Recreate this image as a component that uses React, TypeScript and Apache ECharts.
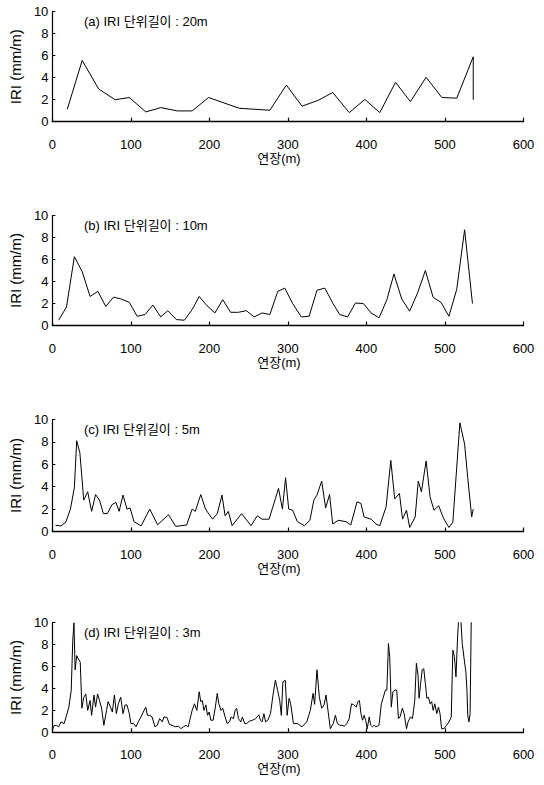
import React, { useEffect, useRef } from "react";
import * as echarts from "echarts";

// Panel titles
const panelTitles = [
  "(a) IRI 단위길이 : 20m",
  "(b) IRI 단위길이 : 10m",
  "(c) IRI 단위길이 : 5m",
  "(d) IRI 단위길이 : 3m",
];
const xName = "연장(m)";
const yName = "IRI (mm/m)";

// (a) 20 m unit length
const aDist = [19, 38, 59, 80, 98, 119, 138, 159, 178, 199, 238, 277, 298, 318, 339, 357, 378, 398, 417, 437, 456, 476, 496, 515, 536, 536];
const aIRI = [1.13, 5.57, 2.97, 2.0, 2.2, 0.89, 1.28, 0.98, 0.98, 2.2, 1.22, 1.04, 3.33, 1.41, 1.96, 2.66, 0.83, 2.02, 0.83, 3.58, 1.83, 4.04, 2.2, 2.14, 5.9, 2.0];

// (b) 10 m unit length
const bDist = [8, 18, 28, 38, 48, 58, 68, 78, 88, 98, 108, 118, 128, 138, 147, 158, 168, 178, 187, 197, 207, 217, 227, 237, 247, 257, 267, 277, 287, 296, 306, 317, 327, 337, 347, 357, 366, 376, 386, 396, 406, 416, 426, 435, 445, 455, 465, 475, 485, 495, 505, 515, 525, 535];
const bIRI = [0.48, 1.68, 6.25, 4.9, 2.64, 3.1, 1.74, 2.58, 2.4, 2.1, 0.84, 1.0, 1.86, 0.78, 1.35, 0.54, 0.48, 1.44, 2.64, 1.8, 1.14, 2.34, 1.2, 1.2, 1.35, 0.78, 1.14, 1.0, 3.1, 3.4, 2.0, 0.78, 0.84, 3.2, 3.4, 2.04, 1.0, 0.78, 2.04, 2.0, 1.14, 0.7, 2.34, 4.68, 2.4, 1.3, 2.94, 5.0, 2.55, 2.1, 0.84, 3.3, 8.7, 2.0];

// (c) 5 m unit length
const cDist = [4, 11, 17, 23, 28, 31, 35, 40, 45, 50, 55, 60, 65, 70, 76, 81, 85, 90, 95, 99, 104, 113, 124, 134, 148, 157, 171, 178, 182, 189, 195, 204, 210, 216, 220, 224, 229, 241, 253, 261, 267, 276, 288, 293, 297, 301, 306, 312, 321, 328, 333, 337, 343, 348, 353, 357, 364, 374, 380, 388, 393, 397, 406, 412, 417, 425, 431, 436, 442, 446, 451, 455, 462, 466, 470, 476, 481, 486, 492, 498, 505, 510, 519, 525, 529, 534, 536];
const cIRI = [0.55, 0.5, 0.82, 2.0, 3.9, 8.1, 7.05, 2.8, 3.55, 1.8, 3.3, 2.8, 1.6, 1.6, 2.4, 2.6, 1.8, 3.25, 2.0, 2.1, 0.88, 0.5, 2.0, 0.6, 1.5, 0.46, 0.58, 2.0, 1.8, 3.3, 2.0, 1.1, 1.6, 3.25, 1.4, 1.8, 0.52, 1.6, 0.52, 1.4, 1.1, 1.1, 3.85, 2.0, 4.8, 2.0, 1.9, 0.88, 0.52, 1.0, 2.8, 3.25, 4.5, 2.1, 3.3, 0.67, 1.0, 0.88, 0.58, 2.65, 2.5, 1.3, 1.1, 0.67, 0.52, 2.2, 6.35, 2.9, 3.4, 1.1, 1.9, 0.36, 1.28, 4.5, 3.55, 6.3, 3.1, 1.9, 2.3, 1.2, 0.36, 0.82, 9.7, 7.8, 4.8, 1.3, 2.0];

// (d) 3 m unit length
const dDist = [0, 2, 5, 8, 11, 15, 17.5, 21, 24, 26, 27.5, 29, 31, 33, 35.5, 37.6, 40, 42.6, 45, 48, 50, 53, 55, 57.6, 60, 62.7, 65.6, 69, 71, 74, 76.4, 79, 81.5, 84, 87, 90, 92.7, 95, 98, 100, 103.6, 106.5, 109.4, 112.8, 115.7, 119, 121, 124, 127, 130.7, 133.7, 136.6, 140, 142, 146, 149, 152.5, 156.6, 160.8, 163.7, 167, 170, 173, 176, 178, 181, 184, 187, 189, 191, 193, 195.5, 197.6, 199.7, 201.8, 204.7, 207.6, 210, 212, 214.7, 217, 220, 222.6, 225.6, 227.6, 230.6, 232.7, 234.7, 237, 240, 242, 245, 247.7, 250.6, 254.8, 259, 263, 265, 267, 269.4, 271.5, 274.4, 277.8, 281, 284, 287, 289.5, 291.6, 293.6, 296.6, 299, 301.5, 303.5, 307, 312, 318, 324, 328.5, 332, 334, 337, 340, 343, 346, 348.5, 351, 354, 357.7, 360.5, 363, 366, 369, 372, 375, 378, 381, 384, 387, 389, 391, 393, 395, 397, 399, 401, 403.5, 405.5, 407.6, 409.7, 411.8, 414, 416, 419, 421.5, 424, 426, 428, 429.6, 431.6, 433.7, 436.6, 438.6, 440.7, 442.8, 445.7, 448, 451, 453, 456, 458.6, 461.5, 463.6, 465.7, 467, 469, 471, 473, 475, 477, 479, 481, 483, 485, 487, 489.6, 491.7, 493.7, 495.7, 498.7, 502, 505, 508, 510, 512, 514, 516, 517.5, 520, 522, 524.6, 526.6, 528, 529, 530.5, 532, 533.5];
const dIRI = [0.2, 0.6, 0.64, 0.5, 0.95, 0.8, 1.4, 2.3, 3.8, 8.4, 10, 5.7, 7.0, 6.7, 6.4, 2.2, 3.2, 3.5, 2.0, 2.9, 1.55, 3.4, 2.3, 3.5, 2.9, 2.2, 0.64, 2.0, 2.8, 2.3, 1.85, 3.4, 1.7, 2.6, 3.2, 1.7, 2.5, 2.5, 1.7, 0.8, 0.8, 0.5, 0.95, 1.4, 1.85, 2.3, 1.55, 1.55, 1.4, 0.5, 0.64, 1.25, 0.95, 1.4, 1.35, 0.73, 0.64, 0.5, 0.55, 0.33, 0.5, 0.64, 0.5, 1.4, 2.0, 2.6, 2.0, 3.7, 2.8, 2.9, 2.0, 2.5, 1.55, 1.85, 1.1, 1.1, 2.3, 3.55, 2.6, 2.0, 2.2, 1.4, 0.8, 0.95, 1.4, 1.25, 2.0, 2.2, 1.25, 0.95, 1.4, 0.8, 0.8, 1.0, 1.1, 1.25, 1.6, 1.1, 0.95, 1.7, 0.95, 1.1, 1.7, 3.4, 4.75, 3.8, 2.9, 1.55, 4.6, 4.75, 1.55, 3.1, 2.6, 0.8, 0.8, 0.5, 0.95, 2.0, 3.55, 2.55, 5.7, 3.2, 2.2, 2.5, 3.4, 2.0, 0.33, 0.8, 1.55, 0.8, 0.64, 0.64, 0.55, 0.8, 1.25, 2.6, 2.5, 2.3, 2.8, 2.9, 1.7, 1.1, 1.55, 1.1, 0.33, 1.4, 0.64, 0.5, 0.64, 0.5, 0.55, 0.64, 2.6, 3.2, 3.85, 3.85, 8.1, 6.9, 2.3, 3.7, 3.85, 3.85, 1.25, 1.4, 2.2, 1.7, 0.33, 0.95, 1.4, 1.25, 2.9, 6.3, 5.2, 3.1, 4.45, 5.7, 5.8, 4.45, 3.1, 3.2, 2.6, 2.8, 2.0, 2.6, 1.7, 2.3, 1.7, 0.33, 0.33, 0.64, 0.95, 1.4, 7.5, 6.9, 5.05, 8.6, 10.5, 10.5, 8.1, 6.6, 5.5, 3.85, 1.55, 0.95, 1.7, 10.5];

// Axis ticks
const xMin = 0;
const xMax = 600;
const xStep = 100;
const yMin = 0;
const yMax = 10;
const yStep = 2;

const panels = [
  { dist: aDist, iri: aIRI },
  { dist: bDist, iri: bIRI },
  { dist: cDist, iri: cIRI },
  { dist: dDist, iri: dIRI },
];

const gridTops = [11.7, 215.5, 419.5, 622.7];
const gridHeights = [110, 110, 112, 109.6];

const FONT = '"Liberation Sans", "Noto Sans CJK KR", sans-serif';

export default function App() {
  const ref = useRef<HTMLDivElement>(null);

  useEffect(() => {
    if (!ref.current) return;
    const chart = echarts.init(ref.current, null, { renderer: "svg" });

    const grids = panels.map((_, i) => ({
      left: 44.5,
      width: 479,
      top: gridTops[i],
      height: gridHeights[i],
    }));

    const xAxes = panels.map((_, i) => ({
      type: "value",
      gridIndex: i,
      min: xMin,
      max: xMax,
      interval: xStep,
      name: xName,
      nameLocation: "middle",
      nameGap: 30,
      nameTextStyle: { color: "#000", fontSize: 13, fontFamily: FONT, padding: [0, 18, 0, 0] },
      axisLine: { show: true, onZero: false, lineStyle: { color: "#000", width: 1.3 } },
      axisTick: { show: true, inside: true, length: 4, lineStyle: { color: "#000", width: 1.2 } },
      axisLabel: { color: "#000", fontSize: 13, fontFamily: FONT, margin: 16 },
      splitLine: { show: false },
    }));

    const yAxes = panels.map((_, i) => ({
      type: "value",
      gridIndex: i,
      min: yMin,
      max: yMax,
      interval: yStep,
      name: yName,
      nameLocation: "middle",
      nameGap: 19,
      nameTextStyle: { color: "#000", fontSize: 15, fontFamily: FONT },
      axisLine: { show: true, lineStyle: { color: "#000", width: 1.2 } },
      axisTick: { show: true, inside: true, length: 3, lineStyle: { color: "#000" } },
      axisLabel: { color: "#000", fontSize: 13, fontFamily: FONT, margin: 4 },
      splitLine: { show: false },
    }));

    const series = panels.map((p, i) => ({
      type: "line",
      xAxisIndex: i,
      yAxisIndex: i,
      data: p.dist.map((d, k) => [d, p.iri[k]]),
      showSymbol: false,
      symbol: "none",
      clip: true,
      lineStyle: { color: "#000", width: 1 },
    }));

    const titles = panelTitles.map((t, i) => ({
      text: t,
      left: 84,
      top: gridTops[i] + 3,
      padding: 0,
      textStyle: { color: "#000", fontSize: 13, fontWeight: "normal", fontFamily: FONT },
    }));

    chart.setOption({
      animation: false,
      backgroundColor: "#fff",
      title: titles,
      grid: grids,
      xAxis: xAxes,
      yAxis: yAxes,
      series,
    });

    return () => chart.dispose();
  }, []);

  return (
    <div
      ref={ref}
      style={{ position: "absolute", left: 0, top: 0, width: 544, height: 785 }}
    />
  );
}
